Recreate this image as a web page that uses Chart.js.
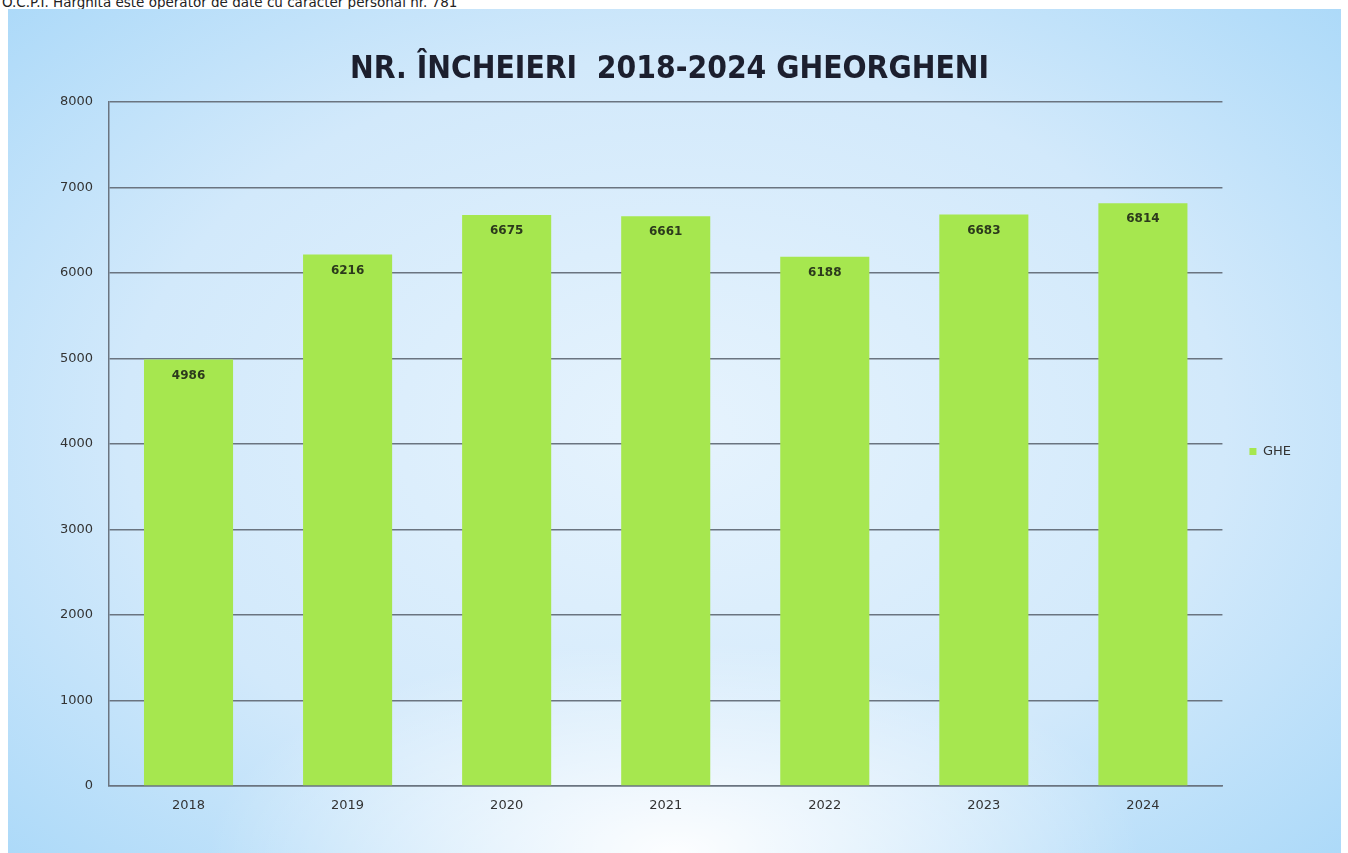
<!DOCTYPE html>
<html lang="ro">
<head>
  <meta charset="UTF-8" />
  <title>Nr. încheieri 2018-2024 Gheorgheni</title>
  <script src="https://cdn.jsdelivr.net/npm/chart.js"></script>
  <style>
    * {
      margin: 0;
      padding: 0;
      box-sizing: border-box;
    }

    body {
      width: 1348px;
      height: 853px;
      background: #fff;
      overflow: hidden;
      position: relative;
      font-family: 'DejaVu Sans', Verdana, sans-serif;
    }

    .note {
      position: absolute;
      left: 2px;
      top: -6px;
      font-size: 13.5px;
      color: #222;
      white-space: nowrap;
    }

    .panel {
      position: absolute;
      left: 8px;
      top: 9px;
      width: 1333px;
      height: 844px;
      background:
        radial-gradient(ellipse 35% 25% at 50% 100%, rgba(255,255,255,0.95), rgba(255,255,255,0)),
        radial-gradient(ellipse 75% 80% at 50% 50%, #e6f3fd 0%, #d2e9fb 55%, #a4d6f8 100%);
    }
  </style>
</head>
<body>
  <div class="note">O.C.P.I. Harghita este operator de date cu caracter personal nr. 781</div>
  <div class="panel">
    <canvas id="chart" width="1333" height="844"></canvas>
  </div>

  <script>
    const years = ['2018', '2019', '2020', '2021', '2022', '2023', '2024'];
    const ghe = [4986, 6216, 6675, 6661, 6188, 6683, 6814];
    const yTicks = [0, 1000, 2000, 3000, 4000, 5000, 6000, 7000, 8000];

    // value labels just inside the top of each bar
    const barLabels = {
      id: 'barLabels',
      afterDatasetsDraw(chart) {
        const ctx = chart.ctx;
        const meta = chart.getDatasetMeta(0);
        ctx.save();
        ctx.font = 'bold 12px "DejaVu Sans", sans-serif';
        ctx.fillStyle = '#2c3a1c';
        ctx.textAlign = 'center';
        ctx.textBaseline = 'middle';
        meta.data.forEach((bar, i) => {
          ctx.fillText(String(ghe[i]), bar.x, bar.y + 16);
        });
        ctx.restore();
      }
    };

    new Chart(document.getElementById('chart').getContext('2d'), {
      type: 'bar',
      data: {
        labels: years,
        datasets: [{
          label: 'GHE',
          data: ghe,
          backgroundColor: '#a6e74f',
          categoryPercentage: 1,
          barPercentage: 0.56
        }]
      },
      options: {
        responsive: false,
        animation: false,
        layout: { padding: { left: 30, right: 40, top: 0, bottom: 0 } },
        plugins: {
          title: {
            display: true,
            text: 'NR. ÎNCHEIERI  2018-2024 GHEORGHENI',
            color: '#1c1f2e',
            font: { family: 'DejaVu Sans Condensed', size: 31.5, weight: 'bold' },
            padding: { top: 42, bottom: 13 }
          },
          legend: {
            position: 'right',
            title: {
              display: true,
              text: ' ',
              font: { size: 1 },
              padding: { top: 40, bottom: 0 }
            },
            labels: {
              boxWidth: 7,
              boxHeight: 7,
              padding: 27,
              color: '#333',
              font: { family: 'DejaVu Sans', size: 13 }
            }
          },
          tooltip: { enabled: false }
        },
        scales: {
          x: {
            grid: { display: false, drawTicks: false },
            border: { color: '#6a7480', width: 1.5 },
            ticks: {
              color: '#333',
              padding: 12,
              font: { family: 'DejaVu Sans', size: 13 }
            },
            afterFit(axis) { axis.height = 67; }
          },
          y: {
            min: 0,
            max: 8000,
            afterBuildTicks(axis) { axis.ticks = yTicks.map(v => ({ value: v })); },
            grid: { color: '#6a7480', lineWidth: 1.5, drawTicks: false },
            border: { color: '#6a7480', width: 1.5 },
            ticks: {
              color: '#333',
              padding: 16,
              font: { family: 'DejaVu Sans', size: 13 },
              callback: v => String(v)
            },
            afterFit(axis) { axis.width = 71; }
          }
        }
      },
      plugins: [barLabels]
    });
  </script>
</body>
</html>
